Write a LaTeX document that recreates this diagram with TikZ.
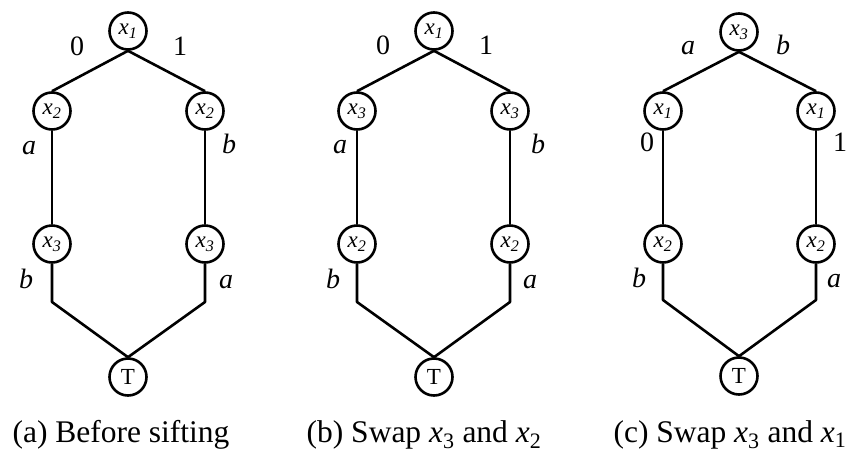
\documentclass[tikz,border=0pt]{standalone}
\usepackage{fontspec}
\setmainfont{Liberation Serif}
\newcommand{\vx}[1]{\textit{x\textsubscript{#1}}}
\newcommand{\cx}[1]{\textit{x}\textsubscript{#1}}
\begin{document}
\begin{tikzpicture}[x=1pt,y=-1pt,line width=2.6pt,line join=round,
  vnode/.style={circle,draw,minimum size=37pt,inner sep=0pt,font=\fontsize{23}{23}\selectfont},
  elab/.style={anchor=base,font=\fontsize{28}{28}\selectfont,inner sep=0pt},
  capt/.style={anchor=base,font=\fontsize{31.5}{31.5}\selectfont,inner sep=0pt}]
\useasboundingbox (0,0) rectangle (848,453);

% ---------- panel (a)
\node[vnode] (a1) at (128,31) {\vx{1}};
\node[vnode] (a2) at (52,111) {\vx{2}};
\node[vnode] (a3) at (205,111) {\vx{2}};
\node[vnode] (a4) at (52,244) {\vx{3}};
\node[vnode] (a5) at (205,244) {\vx{3}};
\node[vnode] (aT) at (128,377) {T};
\coordinate (aL) at (52,302);
\coordinate (aR) at (205,302);
\draw (a1.south) -- (a2.north);
\draw (a1.south) -- (a3.north);
\draw (a2.south) -- (a4.north);
\draw (a3.south) -- (a5.north);
\draw (a4.south) -- (aL) -- (aT.north);
\draw (a5.south) -- (aR) -- (aT.north);
\node[elab] (al1) at (77,55) {0};
\node[elab] (al2) at (180,55) {1};
\node[elab] (al3) at (29,154) {\textit{a}};
\node[elab] (al4) at (229,153) {\textit{b}};
\node[elab] (al5) at (26,288) {\textit{b}};
\node[elab] (al6) at (226,288) {\textit{a}};
\node[capt] (acap) at (121,442) {(a) Before sifting};

% ---------- panel (b)
\node[vnode] (b1) at (434,31) {\vx{1}};
\node[vnode] (b2) at (357,111) {\vx{3}};
\node[vnode] (b3) at (510,111) {\vx{3}};
\node[vnode] (b4) at (357,244) {\vx{2}};
\node[vnode] (b5) at (510,244) {\vx{2}};
\node[vnode] (bT) at (434,377) {T};
\coordinate (bL) at (357,302);
\coordinate (bR) at (510,302);
\draw (b1.south) -- (b2.north);
\draw (b1.south) -- (b3.north);
\draw (b2.south) -- (b4.north);
\draw (b3.south) -- (b5.north);
\draw (b4.south) -- (bL) -- (bT.north);
\draw (b5.south) -- (bR) -- (bT.north);
\node[elab] (bl1) at (383,54) {0};
\node[elab] (bl2) at (486,54) {1};
\node[elab] (bl3) at (340,153) {\textit{a}};
\node[elab] (bl4) at (538,153) {\textit{b}};
\node[elab] (bl5) at (333,288) {\textit{b}};
\node[elab] (bl6) at (530,288) {\textit{a}};
\node[capt] (bcap) at (424,442) {(b) Swap \cx{3} and \cx{2}};

% ---------- panel (c)
\node[vnode] (c1) at (739,32) {\vx{3}};
\node[vnode] (c2) at (663,111) {\vx{1}};
\node[vnode] (c3) at (816,111) {\vx{1}};
\node[vnode] (c4) at (663,244) {\vx{2}};
\node[vnode] (c5) at (816,244) {\vx{2}};
\node[vnode] (cT) at (739,376) {T};
\coordinate (cL) at (663,300);
\coordinate (cR) at (816,300);
\draw (c1.south) -- (c2.north);
\draw (c1.south) -- (c3.north);
\draw (c2.south) -- (c4.north);
\draw (c3.south) -- (c5.north);
\draw (c4.south) -- (cL) -- (cT.north);
\draw (c5.south) -- (cR) -- (cT.north);
\node[elab] (cl1) at (688,54) {\textit{a}};
\node[elab] (cl2) at (783,54) {\textit{b}};
\node[elab] (cl3) at (647,151) {0};
\node[elab] (cl4) at (840,151) {1};
\node[elab] (cl5) at (639,287) {\textit{b}};
\node[elab] (cl6) at (834,287) {\textit{a}};
\node[capt] (ccap) at (730,442) {(c) Swap \cx{3} and \cx{1}};
\end{tikzpicture}
\end{document}
